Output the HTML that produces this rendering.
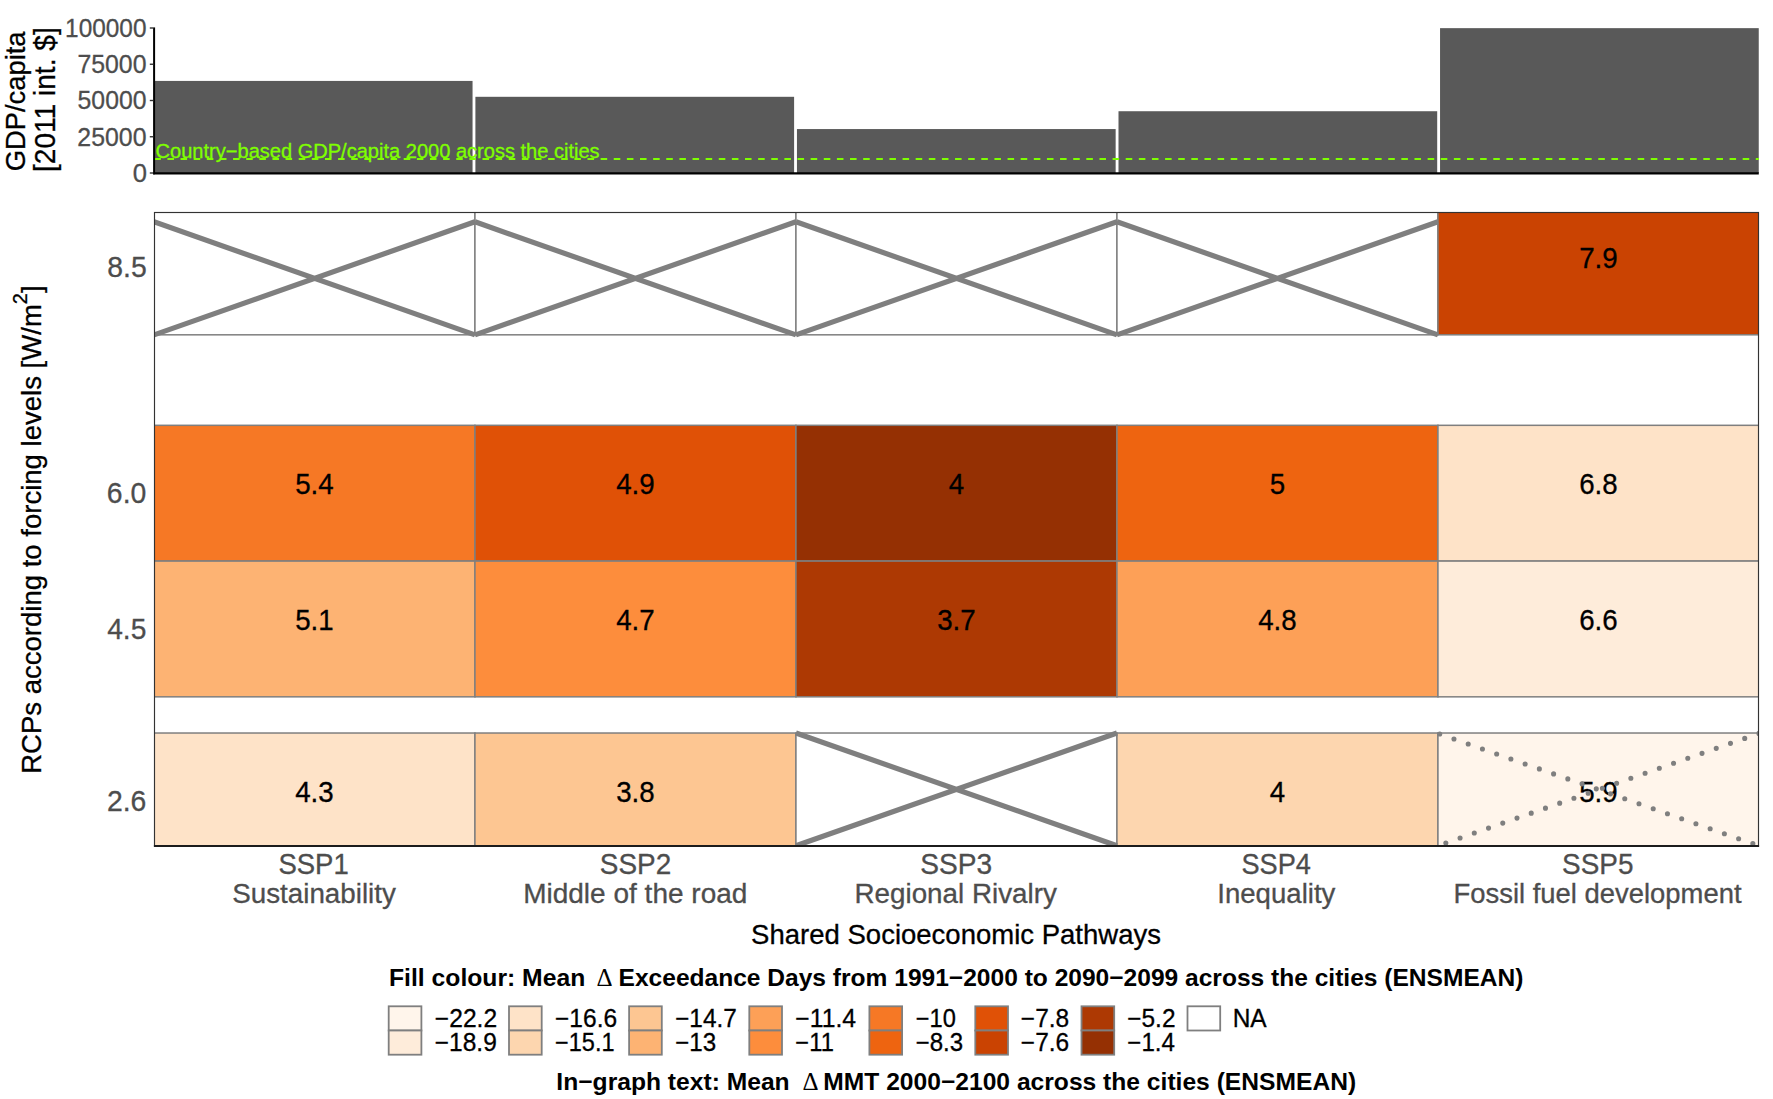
<!DOCTYPE html>
<html lang="en"><head><meta charset="utf-8"><title>SSP / RCP matrix</title>
<style>
html,body{margin:0;padding:0;background:#fff;}
body{width:1773px;height:1099px;overflow:hidden;}
svg{display:block;font-family:"Liberation Sans", Arial, Helvetica, sans-serif;}
</style></head><body>
<svg width="1773" height="1099" viewBox="0 0 1773 1099">
<rect width="1773" height="1099" fill="#fff"/>
<rect x="153.85" y="80.92" width="318.70" height="92.08" fill="#595959"/>
<rect x="475.40" y="96.80" width="318.70" height="76.20" fill="#595959"/>
<rect x="796.95" y="129.06" width="318.70" height="43.94" fill="#595959"/>
<rect x="1118.50" y="111.23" width="318.70" height="61.77" fill="#595959"/>
<rect x="1440.05" y="28.15" width="318.70" height="144.85" fill="#595959"/>
<line x1="154.3" x2="1758.7" y1="159.05" y2="159.05" stroke="#7FFF00" stroke-width="2.1" stroke-dasharray="6.56 6.567"/>
<text id="green" x="155.6" y="157.5" font-size="19.7" fill="#7FFF00" stroke="#7FFF00" stroke-width="0.3" textLength="444.06" lengthAdjust="spacingAndGlyphs">Country−based GDP/capita 2000 across the cities</text>
<line x1="154.1" x2="154.1" y1="27.4" y2="174.3" stroke="#000" stroke-width="2"/>
<line x1="153.1" x2="1758.8" y1="173.35" y2="173.35" stroke="#000" stroke-width="2.1"/>
<line x1="149.8" x2="153.2" y1="173.00" y2="173.00" stroke="#333" stroke-width="1.4"/>
<text id="tk0" x="132.69" y="181.9" font-size="25.6" fill="#4D4D4D" stroke="#4D4D4D" stroke-width="0.3">0</text>
<line x1="149.8" x2="153.2" y1="136.75" y2="136.75" stroke="#333" stroke-width="1.4"/>
<text id="tk25000" x="77.36" y="145.65" font-size="25.6" fill="#4D4D4D" stroke="#4D4D4D" stroke-width="0.3" textLength="69.1" lengthAdjust="spacingAndGlyphs">25000</text>
<line x1="149.8" x2="153.2" y1="100.50" y2="100.50" stroke="#333" stroke-width="1.4"/>
<text id="tk50000" x="77.6" y="109.4" font-size="25.6" fill="#4D4D4D" stroke="#4D4D4D" stroke-width="0.3" textLength="68.9" lengthAdjust="spacingAndGlyphs">50000</text>
<line x1="149.8" x2="153.2" y1="64.25" y2="64.25" stroke="#333" stroke-width="1.4"/>
<text id="tk75000" x="77.44" y="73.15" font-size="25.6" fill="#4D4D4D" stroke="#4D4D4D" stroke-width="0.3" textLength="68.99" lengthAdjust="spacingAndGlyphs">75000</text>
<line x1="149.8" x2="153.2" y1="28.00" y2="28.00" stroke="#333" stroke-width="1.4"/>
<text id="tk100000" x="65.09" y="36.9" font-size="25.6" fill="#4D4D4D" stroke="#4D4D4D" stroke-width="0.3" textLength="81.4" lengthAdjust="spacingAndGlyphs">100000</text>
<text id="ytop1" transform="translate(24.9 171.35) rotate(-90)" font-size="28.0" fill="#000" stroke="#000" stroke-width="0.3" textLength="139.9" lengthAdjust="spacingAndGlyphs">GDP/capita</text>
<text id="ytop2" transform="translate(54.8 171.95) rotate(-90)" font-size="28.6" fill="#000" stroke="#000" stroke-width="0.3" textLength="144.63" lengthAdjust="spacingAndGlyphs">[2011 int. $]</text>
<clipPath id="cp"><rect x="154" y="212" width="1605" height="635"/></clipPath>
<g clip-path="url(#cp)">
<rect x="153.95" y="199.07" width="321.00" height="135.75" fill="#FFFFFF" stroke="#7F7F7F" stroke-width="1.5"/>
<rect x="474.95" y="199.07" width="321.00" height="135.75" fill="#FFFFFF" stroke="#7F7F7F" stroke-width="1.5"/>
<rect x="795.95" y="199.07" width="321.00" height="135.75" fill="#FFFFFF" stroke="#7F7F7F" stroke-width="1.5"/>
<rect x="1116.95" y="199.07" width="321.00" height="135.75" fill="#FFFFFF" stroke="#7F7F7F" stroke-width="1.5"/>
<rect x="1437.95" y="199.07" width="321.00" height="135.75" fill="#CA4302" stroke="#7F7F7F" stroke-width="1.5"/>
<rect x="153.95" y="425.32" width="321.00" height="135.75" fill="#F67825" stroke="#7F7F7F" stroke-width="1.5"/>
<rect x="474.95" y="425.32" width="321.00" height="135.75" fill="#E05106" stroke="#7F7F7F" stroke-width="1.5"/>
<rect x="795.95" y="425.32" width="321.00" height="135.75" fill="#953003" stroke="#7F7F7F" stroke-width="1.5"/>
<rect x="1116.95" y="425.32" width="321.00" height="135.75" fill="#EE6410" stroke="#7F7F7F" stroke-width="1.5"/>
<rect x="1437.95" y="425.32" width="321.00" height="135.75" fill="#FEE3C8" stroke="#7F7F7F" stroke-width="1.5"/>
<rect x="153.95" y="561.08" width="321.00" height="135.75" fill="#FDB373" stroke="#7F7F7F" stroke-width="1.5"/>
<rect x="474.95" y="561.08" width="321.00" height="135.75" fill="#FD8D3C" stroke="#7F7F7F" stroke-width="1.5"/>
<rect x="795.95" y="561.08" width="321.00" height="135.75" fill="#AD3903" stroke="#7F7F7F" stroke-width="1.5"/>
<rect x="1116.95" y="561.08" width="321.00" height="135.75" fill="#FDA057" stroke="#7F7F7F" stroke-width="1.5"/>
<rect x="1437.95" y="561.08" width="321.00" height="135.75" fill="#FEECDA" stroke="#7F7F7F" stroke-width="1.5"/>
<rect x="153.95" y="733.02" width="321.00" height="135.75" fill="#FEE3C8" stroke="#7F7F7F" stroke-width="1.5"/>
<rect x="474.95" y="733.02" width="321.00" height="135.75" fill="#FDC692" stroke="#7F7F7F" stroke-width="1.5"/>
<rect x="795.95" y="733.02" width="321.00" height="135.75" fill="#FFFFFF" stroke="#7F7F7F" stroke-width="1.5"/>
<rect x="1116.95" y="733.02" width="321.00" height="135.75" fill="#FDD6AF" stroke="#7F7F7F" stroke-width="1.5"/>
<rect x="1437.95" y="733.02" width="321.00" height="135.75" fill="#FFF5EB" stroke="#7F7F7F" stroke-width="1.5"/>
</g>
<g clip-path="url(#cp)">
<path d="M153.95 221.8 L474.95 334.9 M474.95 221.8 L153.95 334.9" stroke="#7F7F7F" stroke-width="5.2" fill="none"/>
<path d="M474.95 221.8 L795.95 334.9 M795.95 221.8 L474.95 334.9" stroke="#7F7F7F" stroke-width="5.2" fill="none"/>
<path d="M795.95 221.8 L1116.95 334.9 M1116.95 221.8 L795.95 334.9" stroke="#7F7F7F" stroke-width="5.2" fill="none"/>
<path d="M1116.95 221.8 L1437.95 334.9 M1437.95 221.8 L1116.95 334.9" stroke="#7F7F7F" stroke-width="5.2" fill="none"/>
<path d="M795.95 733.0 L1116.95 845.8 M1116.95 733.0 L795.95 845.8" stroke="#7F7F7F" stroke-width="5.2" fill="none"/>
</g>
<text id="t7" x="1598.45" y="268.05" font-size="28.9" fill="#000" stroke="#000" stroke-width="0.3" text-anchor="middle" textLength="38.51" lengthAdjust="spacingAndGlyphs">7.9</text>
<text id="t8" x="314.45" y="494.3" font-size="28.9" fill="#000" stroke="#000" stroke-width="0.3" text-anchor="middle" textLength="38.51" lengthAdjust="spacingAndGlyphs">5.4</text>
<text id="t9" x="635.45" y="494.3" font-size="28.9" fill="#000" stroke="#000" stroke-width="0.3" text-anchor="middle" textLength="38.51" lengthAdjust="spacingAndGlyphs">4.9</text>
<text id="t10" x="956.45" y="494.3" font-size="28.9" fill="#000" stroke="#000" stroke-width="0.3" text-anchor="middle" textLength="15.41" lengthAdjust="spacingAndGlyphs">4</text>
<text id="t11" x="1277.45" y="494.3" font-size="28.9" fill="#000" stroke="#000" stroke-width="0.3" text-anchor="middle" textLength="15.41" lengthAdjust="spacingAndGlyphs">5</text>
<text id="t12" x="1598.45" y="494.3" font-size="28.9" fill="#000" stroke="#000" stroke-width="0.3" text-anchor="middle" textLength="38.51" lengthAdjust="spacingAndGlyphs">6.8</text>
<text id="t13" x="314.45" y="630.05" font-size="28.9" fill="#000" stroke="#000" stroke-width="0.3" text-anchor="middle" textLength="38.51" lengthAdjust="spacingAndGlyphs">5.1</text>
<text id="t14" x="635.45" y="630.05" font-size="28.9" fill="#000" stroke="#000" stroke-width="0.3" text-anchor="middle" textLength="38.51" lengthAdjust="spacingAndGlyphs">4.7</text>
<text id="t15" x="956.45" y="630.05" font-size="28.9" fill="#000" stroke="#000" stroke-width="0.3" text-anchor="middle" textLength="38.51" lengthAdjust="spacingAndGlyphs">3.7</text>
<text id="t16" x="1277.45" y="630.05" font-size="28.9" fill="#000" stroke="#000" stroke-width="0.3" text-anchor="middle" textLength="38.51" lengthAdjust="spacingAndGlyphs">4.8</text>
<text id="t17" x="1598.45" y="630.05" font-size="28.9" fill="#000" stroke="#000" stroke-width="0.3" text-anchor="middle" textLength="38.51" lengthAdjust="spacingAndGlyphs">6.6</text>
<text id="t18" x="314.45" y="802.0" font-size="28.9" fill="#000" stroke="#000" stroke-width="0.3" text-anchor="middle" textLength="38.51" lengthAdjust="spacingAndGlyphs">4.3</text>
<text id="t19" x="635.45" y="802.0" font-size="28.9" fill="#000" stroke="#000" stroke-width="0.3" text-anchor="middle" textLength="38.51" lengthAdjust="spacingAndGlyphs">3.8</text>
<text id="t20" x="1277.45" y="802.0" font-size="28.9" fill="#000" stroke="#000" stroke-width="0.3" text-anchor="middle" textLength="15.41" lengthAdjust="spacingAndGlyphs">4</text>
<text id="t21" x="1598.45" y="802.0" font-size="28.9" fill="#000" stroke="#000" stroke-width="0.3" text-anchor="middle" textLength="38.51" lengthAdjust="spacingAndGlyphs">5.9</text>
<g clip-path="url(#cp)">
<path d="M1437.95 733.4 L1758.95 845.8" stroke-dasharray="0 15.08" stroke-linecap="round" stroke-width="5.1" stroke="#7F7F7F" fill="none" stroke-dashoffset="-1.89"/>
<path d="M1758.95 733.4 L1437.95 845.8" stroke-dasharray="0 15.08" stroke-linecap="round" stroke-width="5.1" stroke="#7F7F7F" fill="none"/>
</g>
<rect x="154.5" y="212.5" width="1604" height="633.5" fill="none" stroke="#333" stroke-width="1.15"/>
<line x1="153.9" x2="1759.1" y1="846" y2="846" stroke="#1c1c1c" stroke-width="2"/>
<text id="yl85" x="107.32" y="276.85" font-size="29.3" fill="#4D4D4D" stroke="#4D4D4D" stroke-width="0.3" textLength="39.48" lengthAdjust="spacingAndGlyphs">8.5</text>
<text id="yl60" x="106.87" y="503.1" font-size="29.3" fill="#4D4D4D" stroke="#4D4D4D" stroke-width="0.3" textLength="39.46" lengthAdjust="spacingAndGlyphs">6.0</text>
<text id="yl45" x="107.18" y="638.85" font-size="29.3" fill="#4D4D4D" stroke="#4D4D4D" stroke-width="0.3" textLength="39.15" lengthAdjust="spacingAndGlyphs">4.5</text>
<text id="yl26" x="106.98" y="810.8" font-size="29.3" fill="#4D4D4D" stroke="#4D4D4D" stroke-width="0.3" textLength="39.41" lengthAdjust="spacingAndGlyphs">2.6</text>
<text id="xa0" x="278.38" y="874.3" font-size="28.6" fill="#4D4D4D" stroke="#4D4D4D" stroke-width="0.3" textLength="70.31" lengthAdjust="spacingAndGlyphs">SSP1</text>
<text id="xb0" x="232.19" y="902.6" font-size="27.0" fill="#4D4D4D" stroke="#4D4D4D" stroke-width="0.3" textLength="163.65" lengthAdjust="spacingAndGlyphs">Sustainability</text>
<text id="xa1" x="599.79" y="874.3" font-size="28.6" fill="#4D4D4D" stroke="#4D4D4D" stroke-width="0.3" textLength="71.42" lengthAdjust="spacingAndGlyphs">SSP2</text>
<text id="xb1" x="523.17" y="902.6" font-size="27.0" fill="#4D4D4D" stroke="#4D4D4D" stroke-width="0.3" textLength="224.25" lengthAdjust="spacingAndGlyphs">Middle of the road</text>
<text id="xa2" x="920.36" y="874.3" font-size="28.6" fill="#4D4D4D" stroke="#4D4D4D" stroke-width="0.3" textLength="71.91" lengthAdjust="spacingAndGlyphs">SSP3</text>
<text id="xb2" x="854.47" y="902.6" font-size="27.0" fill="#4D4D4D" stroke="#4D4D4D" stroke-width="0.3" textLength="202.39" lengthAdjust="spacingAndGlyphs">Regional Rivalry</text>
<text id="xa3" x="1241.4" y="874.3" font-size="28.6" fill="#4D4D4D" stroke="#4D4D4D" stroke-width="0.3" textLength="69.47" lengthAdjust="spacingAndGlyphs">SSP4</text>
<text id="xb3" x="1217.27" y="902.6" font-size="27.0" fill="#4D4D4D" stroke="#4D4D4D" stroke-width="0.3" textLength="118.09" lengthAdjust="spacingAndGlyphs">Inequality</text>
<text id="xa4" x="1562.08" y="874.3" font-size="28.6" fill="#4D4D4D" stroke="#4D4D4D" stroke-width="0.3" textLength="71.39" lengthAdjust="spacingAndGlyphs">SSP5</text>
<text id="xb4" x="1453.56" y="902.6" font-size="27.0" fill="#4D4D4D" stroke="#4D4D4D" stroke-width="0.3" textLength="287.97" lengthAdjust="spacingAndGlyphs">Fossil fuel development</text>
<text id="xtitle" x="751.11" y="943.75" font-size="27.2" fill="#000" stroke="#000" stroke-width="0.3" textLength="409.88" lengthAdjust="spacingAndGlyphs">Shared Socioeconomic Pathways</text>
<text id="ymain" transform="translate(40.5 773.87) rotate(-90)" font-size="27.3" fill="#000" stroke="#000" stroke-width="0.3" textLength="488.46" lengthAdjust="spacingAndGlyphs">RCPs according to forcing levels [W/m<tspan font-size="19.8" dy="-13.2">2</tspan><tspan dy="13.2">]</tspan></text>
<text id="t1a" x="389.02" y="985.8" font-size="24.3" fill="#000" font-weight="bold" textLength="196.26" lengthAdjust="spacingAndGlyphs">Fill colour: Mean</text>
<text id="t1d" x="596.62" y="985.8" font-size="25.0" fill="#000" font-family="'Liberation Serif', 'DejaVu Serif', serif">Δ</text>
<text id="t1b" x="618.55" y="985.8" font-size="24.3" fill="#000" font-weight="bold" textLength="904.89" lengthAdjust="spacingAndGlyphs">Exceedance Days from 1991−2000 to 2090−2099 across the cities (ENSMEAN)</text>
<text id="t2a" x="556.33" y="1089.6" font-size="24.3" fill="#000" font-weight="bold" textLength="233.34" lengthAdjust="spacingAndGlyphs">In−graph text: Mean</text>
<text id="t2d" x="802.45" y="1089.6" font-size="25.0" fill="#000" font-family="'Liberation Serif', 'DejaVu Serif', serif">Δ</text>
<text id="t2b" x="823.26" y="1089.6" font-size="24.3" fill="#000" font-weight="bold" textLength="532.89" lengthAdjust="spacingAndGlyphs">MMT 2000−2100 across the cities (ENSMEAN)</text>
<rect x="388.7" y="1006.3" width="32.7" height="24.2" fill="#FFF5EB" stroke="#7F7F7F" stroke-width="1.8"/>
<rect x="388.7" y="1030.5" width="32.7" height="24.2" fill="#FEECDA" stroke="#7F7F7F" stroke-width="1.8"/>
<text id="la0" x="434.86" y="1026.8" font-size="24.9" fill="#000" stroke="#000" stroke-width="0.3" textLength="62.22" lengthAdjust="spacingAndGlyphs">−22.2</text>
<text id="lb0" x="434.8" y="1051.3" font-size="24.9" fill="#000" stroke="#000" stroke-width="0.3" textLength="61.98" lengthAdjust="spacingAndGlyphs">−18.9</text>
<rect x="509.0" y="1006.3" width="32.7" height="24.2" fill="#FEE3C8" stroke="#7F7F7F" stroke-width="1.8"/>
<rect x="509.0" y="1030.5" width="32.7" height="24.2" fill="#FDD6AF" stroke="#7F7F7F" stroke-width="1.8"/>
<text id="la1" x="555.04" y="1026.8" font-size="24.9" fill="#000" stroke="#000" stroke-width="0.3" textLength="62.06" lengthAdjust="spacingAndGlyphs">−16.6</text>
<text id="lb1" x="555.07" y="1051.3" font-size="24.9" fill="#000" stroke="#000" stroke-width="0.3" textLength="59.45" lengthAdjust="spacingAndGlyphs">−15.1</text>
<rect x="629.1" y="1006.3" width="32.7" height="24.2" fill="#FDC692" stroke="#7F7F7F" stroke-width="1.8"/>
<rect x="629.1" y="1030.5" width="32.7" height="24.2" fill="#FDB373" stroke="#7F7F7F" stroke-width="1.8"/>
<text id="la2" x="675.13" y="1026.8" font-size="24.9" fill="#000" stroke="#000" stroke-width="0.3" textLength="61.62" lengthAdjust="spacingAndGlyphs">−14.7</text>
<text id="lb2" x="675.21" y="1051.3" font-size="24.9" fill="#000" stroke="#000" stroke-width="0.3" textLength="41.01" lengthAdjust="spacingAndGlyphs">−13</text>
<rect x="749.3" y="1006.3" width="32.7" height="24.2" fill="#FDA057" stroke="#7F7F7F" stroke-width="1.8"/>
<rect x="749.3" y="1030.5" width="32.7" height="24.2" fill="#FD8D3C" stroke="#7F7F7F" stroke-width="1.8"/>
<text id="la3" x="795.29" y="1026.8" font-size="24.9" fill="#000" stroke="#000" stroke-width="0.3" textLength="60.77" lengthAdjust="spacingAndGlyphs">−11.4</text>
<text id="lb3" x="795.35" y="1051.3" font-size="24.9" fill="#000" stroke="#000" stroke-width="0.3" textLength="38.49" lengthAdjust="spacingAndGlyphs">−11</text>
<rect x="869.4" y="1006.3" width="32.7" height="24.2" fill="#F67825" stroke="#7F7F7F" stroke-width="1.8"/>
<rect x="869.4" y="1030.5" width="32.7" height="24.2" fill="#EE6410" stroke="#7F7F7F" stroke-width="1.8"/>
<text id="la4" x="915.7" y="1026.8" font-size="24.9" fill="#000" stroke="#000" stroke-width="0.3" textLength="40.14" lengthAdjust="spacingAndGlyphs">−10</text>
<text id="lb4" x="915.72" y="1051.3" font-size="24.9" fill="#000" stroke="#000" stroke-width="0.3" textLength="47.45" lengthAdjust="spacingAndGlyphs">−8.3</text>
<rect x="975.3" y="1006.3" width="32.7" height="24.2" fill="#E05106" stroke="#7F7F7F" stroke-width="1.8"/>
<rect x="975.3" y="1030.5" width="32.7" height="24.2" fill="#CA4302" stroke="#7F7F7F" stroke-width="1.8"/>
<text id="la5" x="1020.86" y="1026.8" font-size="24.9" fill="#000" stroke="#000" stroke-width="0.3" textLength="48.32" lengthAdjust="spacingAndGlyphs">−7.8</text>
<text id="lb5" x="1020.86" y="1051.3" font-size="24.9" fill="#000" stroke="#000" stroke-width="0.3" textLength="48.32" lengthAdjust="spacingAndGlyphs">−7.6</text>
<rect x="1081.5" y="1006.3" width="32.7" height="24.2" fill="#AD3903" stroke="#7F7F7F" stroke-width="1.8"/>
<rect x="1081.5" y="1030.5" width="32.7" height="24.2" fill="#953003" stroke="#7F7F7F" stroke-width="1.8"/>
<text id="la6" x="1127.28" y="1026.8" font-size="24.9" fill="#000" stroke="#000" stroke-width="0.3" textLength="48.23" lengthAdjust="spacingAndGlyphs">−5.2</text>
<text id="lb6" x="1127.34" y="1051.3" font-size="24.9" fill="#000" stroke="#000" stroke-width="0.3" textLength="47.68" lengthAdjust="spacingAndGlyphs">−1.4</text>
<rect x="1187.5" y="1006.3" width="32.7" height="24.2" fill="#fff" stroke="#7F7F7F" stroke-width="1.8"/>
<text id="lna" x="1232.64" y="1026.8" font-size="24.9" fill="#000" stroke="#000" stroke-width="0.3" textLength="34.0" lengthAdjust="spacingAndGlyphs">NA</text>
</svg>
</body></html>
